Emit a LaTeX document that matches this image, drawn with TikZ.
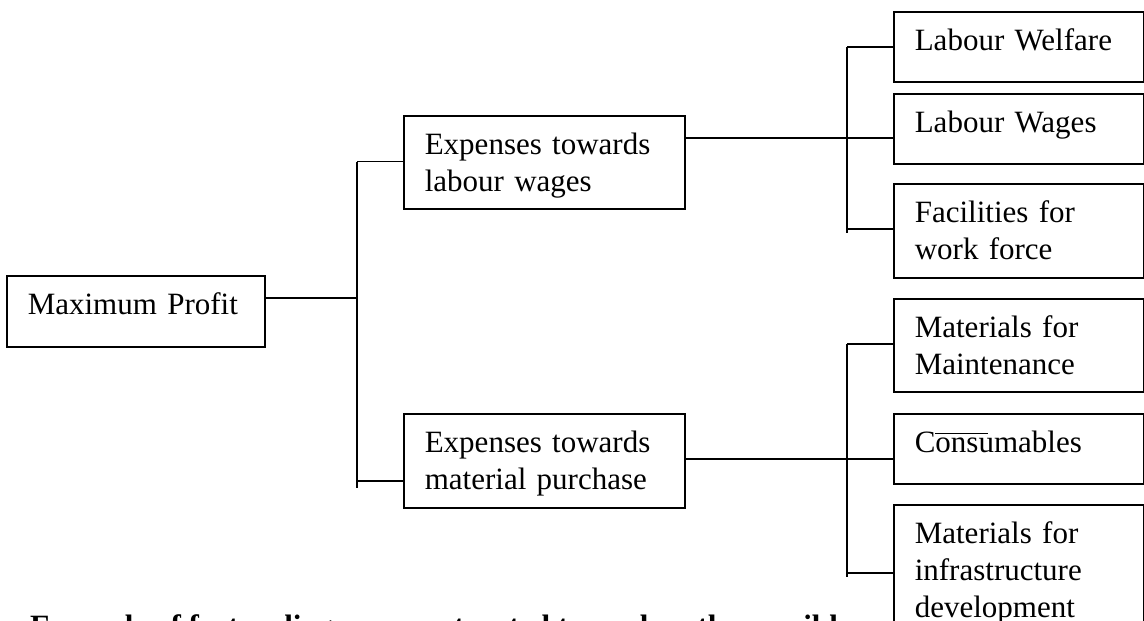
\documentclass[tikz,border=0pt]{standalone}
\usepackage{fontspec}
\setmainfont{Liberation Serif}
\begin{document}
\begin{tikzpicture}[x=1pt,y=-1pt,
  box/.style={draw, line width=1.6pt, anchor=north west, inner xsep=21pt,
    inner ysep=0pt, align=left, text height=38.5pt,
    font=\fontsize{31}{37}\selectfont},
  leaf/.style={box, text width=208pt},
  mid/.style={box, text width=239pt},
  link/.style={line width=1.6pt}]
\useasboundingbox (0,0) rectangle (1144,621);
\clip (0,0) rectangle (1144,621);

% root
\node[box, text width=216pt, text depth=32.5pt] (mp) at (6,275) {Maximum Profit};

% second level
\node[mid, text depth=54.5pt] (lab) at (403,115) {Expenses towards\\labour wages};
\node[mid, text depth=55.5pt] (mat) at (403,413) {Expenses towards\\material purchase};

% leaves: labour
\node[leaf, text depth=31.5pt] (lw)  at (893,11)  {Labour Welfare};
\node[leaf, text depth=31.5pt] (lwg) at (893,93)  {Labour Wages};
\node[leaf, text depth=55.5pt] (fac) at (893,183) {Facilities for\\work force};

% leaves: material
\node[leaf, text depth=54.5pt] (mm)  at (893,298) {Materials for\\Maintenance};
\node[leaf, text depth=31.5pt] (con) at (893,413)
  {C\rlap{\raisebox{18pt}{\rule{53pt}{1.3pt}}}onsumables};
\node[leaf, text depth=97.5pt] (inf) at (893,504)
  {Materials for\\infrastructure\\development};

% caption line below the tree
\node[anchor=base west, inner sep=0pt, font=\bfseries\fontsize{31}{37}\selectfont]
  (cap) at (30,636) {Example of factor diagram constructed to analyse the possible};

% left trunk
\coordinate (j0) at (357,298);
\coordinate (l1) at (357,161.5);
\coordinate (l2) at (357,488);
\coordinate (lm) at (357,481);
\draw[link] (mp.east |- j0) -- (j0);
\draw[link] (l1) -- (l2);
\draw[link] (l1) -- (l1 -| lab.west);
\draw[link] (lm) -- (lm -| mat.west);

% upper right trunk
\coordinate (r1) at (847,47);
\coordinate (r2) at (847,233);
\coordinate (r3) at (847,229);
\coordinate (ra) at (847,138);
\draw[link] (r1) -- (r2);
\draw[link] (r1) -- (r1 -| lw.west);
\draw[link] (lab.east |- ra) -- (ra -| lwg.west);
\draw[link] (r3) -- (r3 -| fac.west);

% lower right trunk
\coordinate (s1) at (847,344);
\coordinate (s2) at (847,577);
\coordinate (s3) at (847,573);
\coordinate (sb) at (847,459);
\draw[link] (s1) -- (s2);
\draw[link] (s1) -- (s1 -| mm.west);
\draw[link] (mat.east |- sb) -- (sb -| con.west);
\draw[link] (s3) -- (s3 -| inf.west);
\end{tikzpicture}
\end{document}
